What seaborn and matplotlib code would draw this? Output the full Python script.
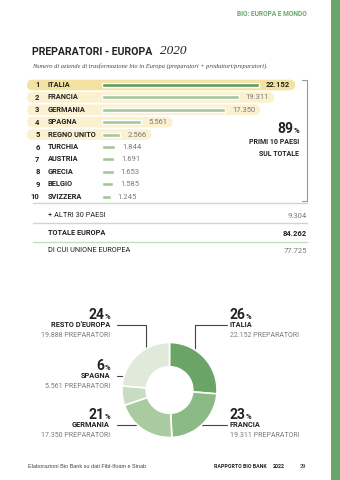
import matplotlib
matplotlib.use("Agg")
import matplotlib.pyplot as plt
import numpy as np
import seaborn as sns
from matplotlib.patches import FancyBboxPatch, Rectangle

# ── Dati ──────────────────────────────────────────────────────
paesi = ["ITALIA", "FRANCIA", "GERMANIA", "SPAGNA", "REGNO UNITO",
         "TURCHIA", "AUSTRIA", "GRECIA", "BELGIO", "SVIZZERA"]
preparatori = [22152, 19311, 17350, 5561, 2566, 1844, 1691, 1653, 1585, 1245]

riepilogo_voci = ["+ ALTRI 30 PAESI", "TOTALE EUROPA", "DI CUI UNIONE EUROPEA"]
riepilogo_valori = [9304, 84262, 77725]

quota_top10 = 89

torta_nomi = ["ITALIA", "FRANCIA", "GERMANIA", "SPAGNA", "RESTO D'EUROPA"]
torta_valori = [22152, 19311, 17350, 5561, 19888]
torta_pct = [26, 23, 21, 6, 24]


def it(v):
    return f"{v:,}".replace(",", ".")


# ── Stile ─────────────────────────────────────────────────────
sns.set_theme(style="white")
NARROW = ["Roboto", "DejaVu Sans"]
SERIF = ["Liberation Serif", "DejaVu Serif"]
plt.rcParams["font.family"] = NARROW

VERDE = "#6aa56b"
VERDE_SCURO = "#5f9b5c"
VERDE_CHIARO = "#a3c79a"
LINEA = "#c8dcc3"
GRIGIO = "#7a7a7a"
NERO = "#222222"

fig = plt.figure(figsize=(3.4, 4.8), dpi=100)
fig.patch.set_facecolor("white")

# overlay in pixel coordinates (y down)
ov = fig.add_axes([0, 0, 1, 1], zorder=0)
ov.set_xlim(0, 340)
ov.set_ylim(480, 0)
ov.axis("off")
rend = fig.canvas.get_renderer()
to_ov = ov.transData.inverted()

# green strip on the right
ov.add_patch(Rectangle((331, 0), 9, 480, color=VERDE, lw=0))

ov.text(307, 14, "BIO: EUROPA E MONDO", ha="right", va="center",
        fontsize=4.8, fontweight="bold", color=VERDE)
tt = ov.text(32, 52, "PREPARATORI - EUROPA", ha="left", va="center",
             fontsize=7.6, fontweight="bold", color=NERO)
tw = tt.get_window_extent(renderer=rend).width
ov.text(32 + tw + 8, 51.5, "2020", ha="left", va="center", fontsize=9.5,
        style="italic", family=SERIF, color=NERO)
ov.text(32, 66, "Numero di aziende di trasformazione bio in Europa "
        "(preparatori + produttori/preparatori).", ha="left", va="center",
        fontsize=4.6, style="italic", family=SERIF, color="#444444")

# ── Barre ─────────────────────────────────────────────────────
bar_left, bar_w = 102, 200
top_px, bot_px = 78.8, 202.8
axb = fig.add_axes([bar_left / 340, (480 - bot_px) / 480,
                    bar_w / 340, (bot_px - top_px) / 480], zorder=1)
axb.patch.set_alpha(0)
colori = [VERDE_SCURO] + [VERDE_CHIARO] * (len(paesi) - 1)
sns.barplot(x=preparatori, y=paesi, hue=paesi, palette=colori, orient="h",
            width=0.32, legend=False, ax=axb, saturation=1)
axb.set_xlim(0, bar_w * preparatori[0] / 157)
axb.set_ylim(len(paesi) - 0.5, -0.5)
axb.axis("off")

etichette = []
for i, v in enumerate(preparatori):
    t = axb.annotate(it(v), (v, i), xytext=(7, 0), textcoords="offset pixels",
                     ha="left", va="center", fontsize=5.5,
                     fontweight="bold" if i == 0 else "normal",
                     color=NERO if i == 0 else GRIGIO)
    etichette.append(t)

for i, nome in enumerate(paesi):
    y = to_ov.transform(axb.transData.transform((0, i)))[1]
    ov.text(39.5, y, str(i + 1), ha="right", va="center", fontsize=5.5,
            fontweight="bold", color=NERO)
    ov.text(48, y, nome, ha="left", va="center", fontsize=5.3,
            fontweight="bold", color=NERO)
    if i < 5:
        bb = etichette[i].get_window_extent(renderer=rend)
        x_end = to_ov.transform((bb.x1, bb.y0))[0] + 5
        ov.add_patch(FancyBboxPatch((27, y - 5.3), x_end - 27, 10.6,
                                    boxstyle="round,pad=0,rounding_size=5.3",
                                    fc="#f4e2a2" if i == 0 else "#fbf1d0",
                                    ec="none"))

# bracket + 89%
ov.plot([302, 307, 307, 302], [80, 80, 201, 201], color="#999999", lw=0.8)
t = ov.text(299, 133, "%", ha="right", va="baseline", fontsize=5.5,
            fontweight="bold", color=NERO)
w = t.get_window_extent(renderer=rend).width
ov.text(299 - w, 133, str(quota_top10), ha="right", va="baseline",
        fontsize=10, fontweight="bold", color=NERO)
ov.text(299, 142, "PRIMI 10 PAESI", ha="right", va="center", fontsize=5,
        fontweight="bold", color=NERO)
ov.text(299, 153.5, "SUL TOTALE", ha="right", va="center", fontsize=5,
        fontweight="bold", color=NERO)

# riepilogo
for yl in [203, 223.3, 241.7]:
    ov.plot([33, 307], [yl, yl], color=LINEA, lw=1)
for j, (voce, val) in enumerate(zip(riepilogo_voci, riepilogo_valori)):
    y = [215.7, 233.3, 250.7][j]
    bold = voce == "TOTALE EUROPA"
    ov.text(48, y, voce, ha="left", va="center", fontsize=5.3,
            fontweight="bold" if bold else "normal", color=NERO)
    ov.text(307, y, it(val), ha="right", va="center", fontsize=5.5,
            fontweight="bold" if bold else "normal",
            color=NERO if bold else GRIGIO)

# ── Ciambella ─────────────────────────────────────────────────
cx, cy, R = 169.5, 390, 48
axp = fig.add_axes([(cx - R) / 340, (480 - cy - R) / 480, 2 * R / 340, 2 * R / 480],
                   zorder=2)
wedges, _ = axp.pie(torta_valori,
                    colors=["#6aa466", "#8cba86", "#a8cba1", "#c7dcc3", "#dfeadb"],
                    startangle=90, counterclock=False,
                    wedgeprops=dict(width=0.51, edgecolor="white", linewidth=1.2))
axp.set_xlim(-1.01, 1.01)
axp.set_ylim(-1.01, 1.01)
axp.set_aspect("equal")

pos = {  # x di testo, y del nome, lato
    "ITALIA": (230, 325, "left"),
    "FRANCIA": (230, 425, "left"),
    "GERMANIA": (110, 425, "right"),
    "SPAGNA": (110, 375.5, "right"),
    "RESTO D'EUROPA": (110, 325, "right"),
}

for wdg, nome, val, p in zip(wedges, torta_nomi, torta_valori, torta_pct):
    x, y, lato = pos[nome]
    base = y - 6
    if lato == "left":
        t = ov.text(x, base, str(p), ha="left", va="baseline", fontsize=10,
                    fontweight="bold", color=NERO)
        w = t.get_window_extent(renderer=rend).width
        ov.text(x + w, base, "%", ha="left", va="baseline", fontsize=5.5,
                fontweight="bold", color=NERO)
    else:
        t = ov.text(x, base, "%", ha="right", va="baseline", fontsize=5.5,
                    fontweight="bold", color=NERO)
        w = t.get_window_extent(renderer=rend).width
        ov.text(x - w, base, str(p), ha="right", va="baseline", fontsize=10,
                fontweight="bold", color=NERO)
    ov.text(x, y, nome, ha=lato, va="center", fontsize=5.3, fontweight="bold",
            color=NERO)
    ov.text(x, y + 10.7, f"{it(val)} PREPARATORI", ha=lato, va="center",
            fontsize=5, color=GRIGIO)

    # leader line
    m = np.deg2rad((wdg.theta1 + wdg.theta2) / 2)
    px, py = to_ov.transform(axp.transData.transform((0.74 * np.cos(m),
                                                      0.74 * np.sin(m))))
    x0 = x - 3.3 if lato == "left" else x + 6.7
    if abs(py - y) < 15:
        ov.plot([x0, px], [y, y], color="#444444", lw=0.8, zorder=5)
    else:
        ov.plot([x0, px, px], [y, y, py], color="#444444", lw=0.8, zorder=5)

# ── Piè di pagina ─────────────────────────────────────────────
ov.text(28, 466, "Elaborazioni Bio Bank su dati Fibl-Ifoam e Sinab",
        ha="left", va="center", fontsize=4, family=["Liberation Sans", "DejaVu Sans"],
        color="#444444")
ov.text(267, 466, "RAPPORTO BIO BANK", ha="right", va="center", fontsize=3.8,
        fontweight="bold", color=NERO)
ov.text(272.5, 466, "2022", ha="left", va="center", fontsize=3.8,
        fontweight="bold", color=NERO)
ov.text(300, 466, "29", ha="left", va="center", fontsize=4.2, color=NERO)

fig.savefig("out.png", dpi=100)
